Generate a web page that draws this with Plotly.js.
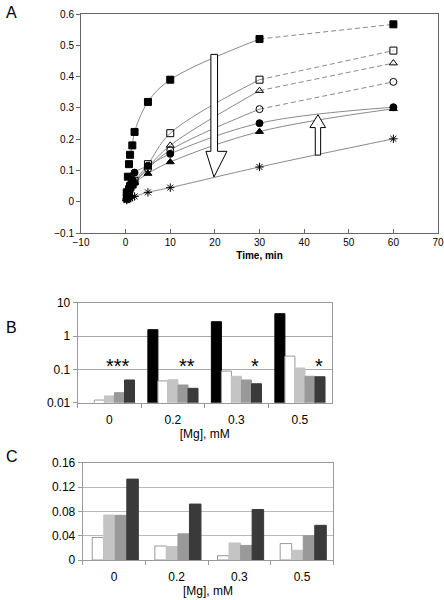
<!DOCTYPE html>
<html>
<head>
<meta charset="utf-8">
<script src="https://cdn.plot.ly/plotly-3.0.1.min.js"></script>
<style>html,body{margin:0;padding:0;background:#fff}#chart{width:444px;height:600px}</style>
</head>
<body>
<div id="chart"></div>
<script>
// ---- Panel A data (time course) ----
const timeMin = [0.25, 0.5, 0.75, 1, 1.5, 2, 5, 10, 30, 60];
const sqFilled = [0.03, 0.08, 0.12, 0.15, 0.18, 0.223, 0.319, 0.390, 0.520, 0.567];
const sqOpen = [0.01, 0.025, 0.04, 0.05, 0.06, 0.067, 0.120, 0.219, 0.390, 0.483];
const triOpen = [0.01, 0.02, 0.035, 0.045, 0.055, 0.062, 0.110, 0.180, 0.355, 0.443];
const circOpen = [0.01, 0.02, 0.03, 0.04, 0.05, 0.060, 0.105, 0.165, 0.296, 0.383];
const circFilled = [0.01, 0.025, 0.04, 0.055, 0.07, 0.093, 0.115, 0.153, 0.251, 0.302];
const triFilled = [0.01, 0.02, 0.03, 0.04, 0.05, 0.060, 0.090, 0.127, 0.224, 0.297];
const asterisk = [0.005, 0.008, 0.01, 0.012, 0.015, 0.017, 0.030, 0.045, 0.111, 0.201];

// ---- Panels B and C data ----
const mgCats = ['0', '0.2', '0.3', '0.5'];
const bBlack = [null, 1.55, 2.69, 4.68];
const bWhite = [0.012, 0.045, 0.089, 0.25];
const bLight = [0.016, 0.049, 0.062, 0.11];
const bMid = [0.020, 0.034, 0.048, 0.062];
const bDark = [0.048, 0.027, 0.037, 0.060];
const bStars = ['***', '**', '*', '*'];
const cWhite = [0.037, 0.023, 0.007, 0.027];
const cLight = [0.074, 0.022, 0.028, 0.016];
const cMid = [0.0735, 0.043, 0.024, 0.040];
const cDark = [0.133, 0.092, 0.083, 0.057];

const W = 444, H = 600;
const px = v => v / W;
const py = v => 1 - v / H;
const FONT = 'Liberation Sans, Arial, sans-serif';
const lineGray = '#8a8a8a';

const traces = [];
const seriesA = [
  {y: sqFilled, sym: 'square', dashTail: true},
  {y: sqOpen, sym: 'square-open', dashTail: true},
  {y: triOpen, sym: 'triangle-up-open', dashTail: true},
  {y: circOpen, sym: 'circle-open', dashTail: true},
  {y: circFilled, sym: 'circle', dashTail: false},
  {y: triFilled, sym: 'triangle-up', dashTail: false},
  {y: asterisk, sym: 'asterisk-open', dashTail: false}
];
seriesA.forEach(s => {
  const solidEnd = s.dashTail ? 9 : 10;
  traces.push({x: timeMin.slice(3, solidEnd), y: s.y.slice(3, solidEnd), mode: 'lines',
    line: {color: lineGray, width: 1, shape: 'spline'}, xaxis: 'x', yaxis: 'y', showlegend: false, hoverinfo: 'skip'});
  if (s.dashTail) {
    traces.push({x: timeMin.slice(8), y: s.y.slice(8), mode: 'lines',
      line: {color: lineGray, width: 1, dash: '5px,3px'}, xaxis: 'x', yaxis: 'y', showlegend: false, hoverinfo: 'skip'});
  }
});
seriesA.forEach(s => {
  traces.push({x: timeMin, y: s.y, mode: 'markers', xaxis: 'x', yaxis: 'y', showlegend: false,
    marker: {symbol: s.sym, size: 7, color: '#000',
      line: {color: '#000', width: 1}}});
});

// Panel B bars (overlay with explicit offsets)
const bSeries = [
  {y: bBlack, c: '#000000', lc: '#000000'},
  {y: bWhite, c: '#ffffff', lc: '#999999'},
  {y: bLight, c: '#c4c4c4', lc: '#c4c4c4'},
  {y: bMid, c: '#999999', lc: '#999999'},
  {y: bDark, c: '#3a3a3a', lc: '#3a3a3a'}
];
const bw = 0.158;
bSeries.forEach((s, i) => {
  traces.push({type: 'bar', x: mgCats, y: s.y, xaxis: 'x2', yaxis: 'y2', showlegend: false,
    width: bw, offset: -bSeries.length * bw / 2 + i * bw,
    marker: {color: s.c, line: {color: s.lc, width: 1}}});
});

const cSeries = [
  {y: cWhite, c: '#ffffff', lc: '#999999'},
  {y: cLight, c: '#c4c4c4', lc: '#c4c4c4'},
  {y: cMid, c: '#999999', lc: '#999999'},
  {y: cDark, c: '#3a3a3a', lc: '#3a3a3a'}
];
const cw = 0.184;
cSeries.forEach((s, i) => {
  traces.push({type: 'bar', x: mgCats, y: s.y, xaxis: 'x3', yaxis: 'y3', showlegend: false,
    width: cw, offset: -cSeries.length * cw / 2 + i * cw + 0.02,
    marker: {color: s.c, line: {color: s.lc, width: 1}}});
});

const starOffsets = [0.13, 0.22, 0.29, 0.30];
const annotations = [
  {text: 'A', x: px(4), y: py(12), xref: 'paper', yref: 'paper', xanchor: 'left', yanchor: 'middle', showarrow: false, font: {size: 16, family: FONT, color: '#000'}},
  {text: 'B', x: px(4), y: py(327), xref: 'paper', yref: 'paper', xanchor: 'left', yanchor: 'middle', showarrow: false, font: {size: 16, family: FONT, color: '#000'}},
  {text: 'C', x: px(4), y: py(456), xref: 'paper', yref: 'paper', xanchor: 'left', yanchor: 'middle', showarrow: false, font: {size: 16, family: FONT, color: '#000'}}
];
bStars.forEach((s, i) => {
  annotations.push({text: s, x: i + starOffsets[i], y: Math.log10(0.13), xref: 'x2', yref: 'y2',
    showarrow: false, yanchor: 'middle', font: {size: 20, family: FONT, color: '#000'}});
});

const shapes = [
  {type: 'path', xref: 'x', yref: 'y', layer: 'above',
    path: 'M 19.1 0.471 L 20.6 0.471 L 20.6 0.161 L 22.7 0.161 L 19.8 0.079 L 18.0 0.161 L 19.1 0.161 Z',
    fillcolor: '#ffffff', line: {color: '#000', width: 1}},
  {type: 'path', xref: 'x', yref: 'y', layer: 'above',
    path: 'M 42.5 0.149 L 43.7 0.149 L 43.7 0.237 L 44.8 0.237 L 43.1 0.278 L 41.3 0.237 L 42.5 0.237 Z',
    fillcolor: '#ffffff', line: {color: '#000', width: 1}}
];

const tickFontA = {size: 10, family: FONT, color: '#000'};
const tickFont = {size: 12, family: FONT, color: '#000'};

const layout = {
  width: W, height: H,
  margin: {l: 0, r: 0, t: 0, b: 0},
  paper_bgcolor: '#fff', plot_bgcolor: '#fff',
  barmode: 'overlay',
  font: {family: FONT, color: '#000'},
  xaxis: {domain: [px(81), px(438)], anchor: 'y', range: [-10, 70], dtick: 10, tick0: -10,
    ticks: 'inside', ticklen: 4, tickcolor: '#666', showline: true, linecolor: '#666', mirror: true,
    showgrid: false, zeroline: false, tickfont: tickFontA,
    title: {text: '<b>Time, min</b>', font: {size: 10, family: FONT, color: '#000'}, standoff: 4}},
  yaxis: {domain: [py(233), py(14)], anchor: 'x', range: [-0.1, 0.6], dtick: 0.1, tick0: -0.1,
    ticks: 'outside', ticklen: 4, tickcolor: '#666', showline: true, linecolor: '#666', mirror: true,
    showgrid: false, zeroline: false, tickfont: tickFontA},
  xaxis2: {domain: [px(77.7), px(331.7)], anchor: 'y2', type: 'category', tickson: 'boundaries',
    ticks: 'outside', ticklen: 4, tickcolor: '#999', showline: true, linecolor: '#999', mirror: true,
    showgrid: false, tickfont: tickFont, ticklabelstandoff: 6,
    title: {text: '[Mg], mM', font: {size: 12, family: FONT, color: '#000'}, standoff: 0}},
  yaxis2: {domain: [py(402.7), py(302.7)], anchor: 'x2', type: 'log', range: [-2, 1],
    tickvals: [0.01, 0.1, 1, 10], ticktext: ['0.01', '0.1', '1', '10'],
    ticks: 'outside', ticklen: 4, tickcolor: '#999', showline: true, linecolor: '#999', mirror: true,
    showgrid: true, gridcolor: '#aaa', zeroline: false, tickfont: tickFont},
  xaxis3: {domain: [px(82.7), px(333.3)], anchor: 'y3', type: 'category', tickson: 'boundaries',
    ticks: 'outside', ticklen: 4, tickcolor: '#999', showline: true, linecolor: '#999', mirror: true,
    showgrid: false, tickfont: tickFont, ticklabelstandoff: 6,
    title: {text: '[Mg], mM', font: {size: 12, family: FONT, color: '#000'}, standoff: 2}},
  yaxis3: {domain: [py(560), py(462.7)], anchor: 'x3', range: [0, 0.16], dtick: 0.04,
    ticks: 'outside', ticklen: 4, tickcolor: '#999', showline: true, linecolor: '#999', mirror: true,
    showgrid: true, gridcolor: '#bbb', zeroline: false, tickfont: tickFont},
  annotations: annotations,
  shapes: shapes
};

Plotly.newPlot('chart', traces, layout, {staticPlot: true, displayModeBar: false});
</script>
</body>
</html>
